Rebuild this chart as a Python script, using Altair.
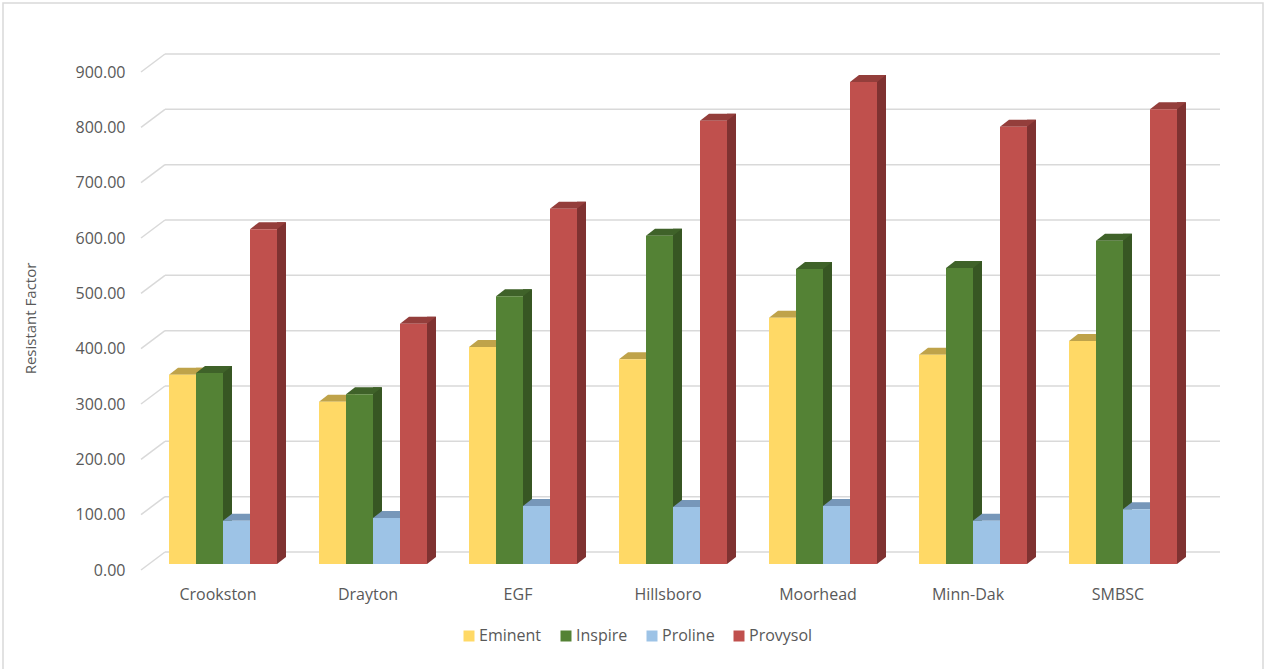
import altair as alt
import pandas as pd

sites = ["Crookston", "Drayton", "EGF", "Hillsboro", "Moorhead", "Minn-Dak", "SMBSC"]
series = ["Eminent", "Inspire", "Proline", "Provysol"]
eminent = [342, 293, 392, 370, 445, 378, 403]
inspire = [345, 307, 484, 593, 533, 535, 584]
proline = [78, 83, 105, 103, 105, 78, 99]
provysol = [605, 434, 642, 801, 871, 790, 822]
y_ticks = [0, 100, 200, 300, 400, 500, 600, 700, 800, 900]

front_colors = ["#FFD966", "#548235", "#9DC3E6", "#C0504D"]
top_colors = ["#BFA34A", "#3F6229", "#7797B9", "#943E3B"]
side_colors = ["#BFA34A", "#375623", "#6B8DB0", "#7F3231"]

rows = []
for i, s in enumerate(sites):
    for name, vals in zip(series, [eminent, inspire, proline, provysol]):
        rows.append({"site": s, "series": name, "value": vals[i], "zero": 0})
df = pd.DataFrame(rows)
grid = pd.DataFrame({"tick": y_ticks})
one = pd.DataFrame({"k": [0]})

FONT = "Open Sans"
TXT = "#595959"
GRID = "#D9D9D9"

x_axis = alt.Axis(title=None, labelFont=FONT, labelFontSize=16, labelColor=TXT,
                  ticks=False, tickSize=0, domain=False, grid=False,
                  labelPadding=22, labelOffset=-5, labelAngle=0)
y_axis = alt.Axis(values=y_ticks, format=".2f", labelFont=FONT, labelFontSize=16,
                  labelColor=TXT, ticks=False, tickSize=0, domain=False, grid=False,
                  labelPadding=23, labelOffset=6, labelFlush=False, labelOverlap=False,
                  title="Resistant Factor", titleFont=FONT, titleFontSize=15,
                  titleFontWeight="normal", titleColor=TXT, titleX=-118, titleY=252,
                  titleAngle=-90, titleAlign="center", titleBaseline="middle")

x_scale = alt.Scale(domain=sites, paddingInner=0.28, paddingOuter=0.14)
y_scale = alt.Scale(domain=[0, 900], nice=False, zero=True)

X = alt.X("site:N", sort=sites, scale=x_scale, axis=x_axis)
XO = alt.XOffset("series:N", sort=series,
                 scale=alt.Scale(type="band", domain=series, paddingInner=0, paddingOuter=0))
# side faces sit one bar-width to the right of their front face, shifted by the depth
XO_side = alt.XOffset("series:N", sort=series,
                      scale=alt.Scale(type="band", domain=series, range=[18, 126],
                                      paddingInner=0, paddingOuter=0))
Yv = alt.Y("value:Q", scale=y_scale, axis=y_axis)
Y0 = alt.Y2("zero:Q")

base = alt.Chart(df)

border = alt.Chart(one).mark_rect(fillOpacity=0, stroke=GRID, strokeWidth=1.5).encode(
    x=alt.value(-145), x2=alt.value(1115), y=alt.value(-63), y2=alt.value(606)
)

back_grid = alt.Chart(grid).mark_rule(color=GRID, strokeWidth=1.5, yOffset=-12).encode(
    y=alt.Y("tick:Q", scale=y_scale, axis=y_axis), x=alt.value(17), x2=alt.value(1072)
)
wall_grid = alt.Chart(grid).mark_rule(color=GRID, strokeWidth=1.5, yOffset=6, y2Offset=-12).encode(
    y=alt.Y("tick:Q", scale=y_scale, axis=y_axis), y2="tick:Q",
    x=alt.value(-7), x2=alt.value(17)
)

sides = base.mark_bar(width=9, yOffset=-7, y2Offset=-7).encode(
    x=X, xOffset=XO_side, y=Yv, y2=Y0,
    color=alt.Color("series:N", sort=series,
                    scale=alt.Scale(domain=series, range=side_colors), legend=None)
)
side_tri = base.mark_point(shape="M 13.5 0 L 13.5 -7 L 22.5 -7 Z", size=4, filled=True,
                           opacity=1, strokeWidth=0).encode(
    x=X, xOffset=XO, y=alt.Y("zero:Q", scale=y_scale, axis=y_axis),
    color=alt.Color("series:N", sort=series,
                    scale=alt.Scale(domain=series, range=side_colors), legend=None)
)
tops = base.mark_point(shape="M -13.5 0 L 13.5 0 L 22.5 -7 L -4.5 -7 Z", size=4, filled=True,
                       opacity=1, strokeWidth=0).encode(
    x=X, xOffset=XO, y=Yv,
    color=alt.Color("series:N", sort=series,
                    scale=alt.Scale(domain=series, range=top_colors), legend=None)
)
fronts = base.mark_bar().encode(
    x=X, xOffset=XO, y=Yv, y2=Y0,
    color=alt.Color("series:N", sort=series,
                    scale=alt.Scale(domain=series, range=front_colors),
                    legend=alt.Legend(orient="none", legendX=313, legendY=562,
                                      direction="horizontal", title=None,
                                      symbolType="square", symbolSize=121,
                                      symbolStrokeWidth=0, labelFont=FONT,
                                      labelFontSize=16, labelColor=TXT,
                                      columnPadding=16, labelOffset=2))
)

layers = alt.layer(border, back_grid, wall_grid, sides).resolve_scale(
    color="independent", xOffset="independent")
chart = alt.layer(layers, side_tri, tops, fronts).resolve_scale(
    color="independent", xOffset="independent"
).properties(
    width=1050, height=498,
    padding={"left": 148, "top": 66, "right": 69, "bottom": 105},
    autosize=alt.AutoSizeParams(type="none"),
    background="white",
).configure_view(stroke=None)

chart.save("out.html", embed_options={"renderer": "svg", "actions": False})
